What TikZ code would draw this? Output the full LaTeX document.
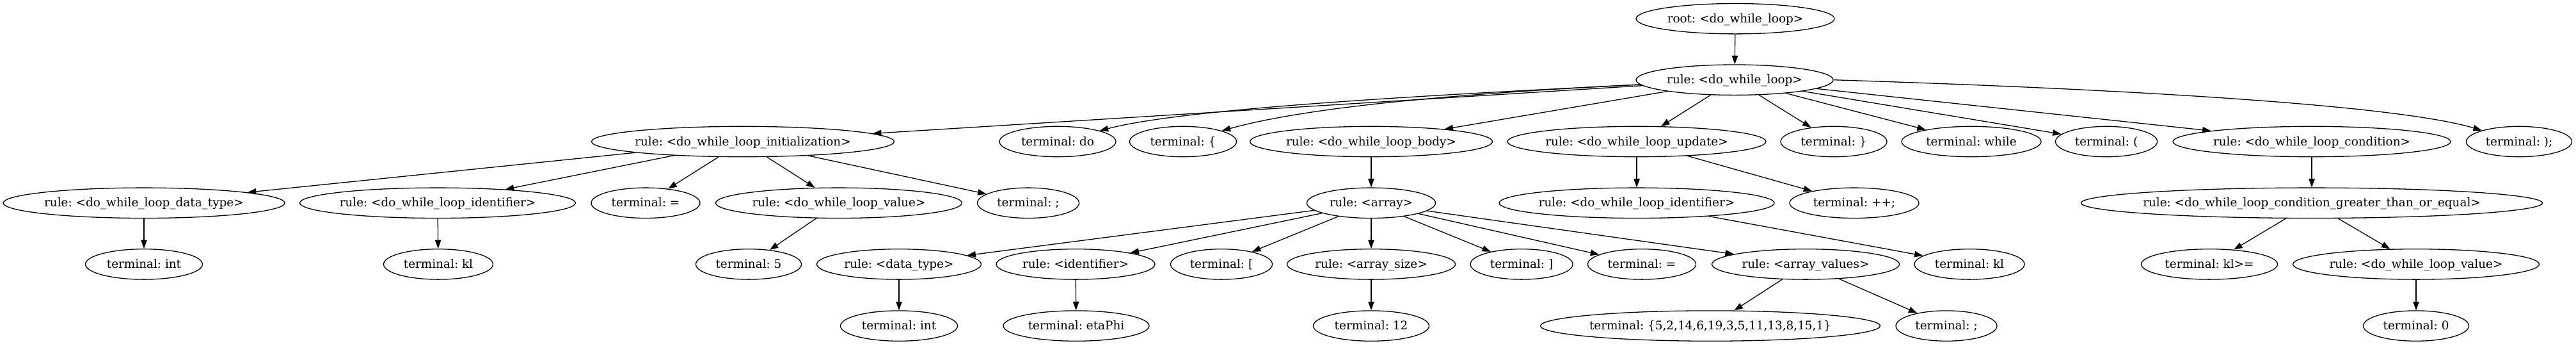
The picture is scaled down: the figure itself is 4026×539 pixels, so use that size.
\documentclass[tikz,border=0pt]{standalone}
\usepackage{fontspec}
\newfontfamily\gvfont{DejaVu Serif}
\usetikzlibrary{shapes.geometric,arrows.meta}
\tikzset{
  gv/.style={ellipse, draw, line width=1.3pt, minimum height=47.4pt, inner sep=0pt,
    text height=14pt, text depth=2pt, font=\gvfont\fontsize{18.4}{22}\selectfont\frenchspacing},
  edge/.style={line width=1.3pt, -{Triangle[length=13.5pt,width=9.5pt]}}
}
\newcommand\gvn[4]{\node[gv, minimum width=#3pt] (#1) at (#2) {\makebox[0pt]{#4}};}
\begin{document}
\begin{tikzpicture}[x=1pt,y=-1pt]
\useasboundingbox (0,0) rectangle (4026,539);
% level 0
\gvn{root}{2712,29.2}{310}{root: <do\_while\_loop>}
% level 1
\gvn{dwl}{2711,124.7}{308}{rule: <do\_while\_loop>}
% level 2
\gvn{init}{1161,221}{473}{rule: <do\_while\_loop\_initialization>}
\gvn{do}{1653,221}{182}{terminal: do}
\gvn{lb}{1849,221}{167}{terminal: \{}
\gvn{body}{2143,221}{379}{rule: <do\_while\_loop\_body>}
\gvn{update}{2558,221}{404}{rule: <do\_while\_loop\_update>}
\gvn{rb}{2866,221}{166}{terminal: \}}
\gvn{while}{3081,221}{218}{terminal: while}
\gvn{lp}{3292,221}{159}{terminal: (}
\gvn{cond}{3613,221}{434}{rule: <do\_while\_loop\_condition>}
\gvn{rp}{3937,221}{165}{terminal: );}
% level 3
\gvn{dtype}{225,316.8}{440}{rule: <do\_while\_loop\_data\_type>}
\gvn{ident}{684,316.8}{431}{rule: <do\_while\_loop\_identifier>}
\gvn{eq}{1009,316.8}{170}{terminal: =}
\gvn{val}{1311,316.8}{385}{rule: <do\_while\_loop\_value>}
\gvn{semi}{1607,316.8}{159}{terminal: ;}
\gvn{array}{2143,316.8}{201}{rule: <array>}
\gvn{uident}{2558,316.8}{430}{rule: <do\_while\_loop\_identifier>}
\gvn{pp}{2898,316.8}{202}{terminal: ++;}
\gvn{gte}{3613,316.8}{721}{rule: <do\_while\_loop\_condition\_greater\_than\_or\_equal>}
% level 4
\gvn{int1}{225,412.4}{183}{terminal: int}
\gvn{kl1}{685,412.4}{171}{terminal: kl}
\gvn{five}{1170,412.4}{165}{terminal: 5}
\gvn{adt}{1405,412.4}{257}{rule: <data\_type>}
\gvn{aid}{1681,412.4}{248}{rule: <identifier>}
\gvn{lbk}{1909,412.4}{159}{terminal: [}
\gvn{asize}{2143,412.4}{263}{rule: <array\_size>}
\gvn{rbk}{2378,412.4}{160}{terminal: ]}
\gvn{aeq}{2566,412.4}{169}{terminal: =}
\gvn{avals}{2822,412.4}{293}{rule: <array\_values>}
\gvn{kl2}{3078,412.4}{172}{terminal: kl}
\gvn{klge}{3453,412.4}{213}{terminal: kl>=}
\gvn{cval}{3776,412.4}{385}{rule: <do\_while\_loop\_value>}
% level 5
\gvn{int2}{1405,508.6}{183}{terminal: int}
\gvn{eta}{1682,508.6}{228}{terminal: etaPhi}
\gvn{twelve}{2143,508.6}{181}{terminal: 12}
\gvn{vals}{2673,508.6}{531}{terminal: \{5,2,14,6,19,3,5,11,13,8,15,1\}}
\gvn{semi2}{3042,508.6}{158}{terminal: ;}
\gvn{zero}{3776,508.6}{165}{terminal: 0}
% edges
\draw[edge] (root) -- (dwl);
\draw[edge] (dwl) -- (init);
\draw[edge] (dwl) .. controls (2200,150) and (1850,170) .. (do);
\draw[edge] (dwl) .. controls (2300,145) and (2050,165) .. (lb);
\draw[edge] (dwl) -- (body);
\draw[edge] (dwl) -- (update);
\draw[edge] (dwl) -- (rb);
\draw[edge] (dwl) -- (while);
\draw[edge] (dwl) -- (lp);
\draw[edge] (dwl) -- (cond);
\draw[edge] (dwl.east) .. controls (3350,140) and (3750,165) .. (rp);
\draw[edge] (init) -- (dtype);
\draw[edge] (init) -- (ident);
\draw[edge] (init) -- (eq);
\draw[edge] (init) -- (val);
\draw[edge] (init) -- (semi);
\draw[edge] (dtype) -- (int1);
\draw[edge] (ident) -- (kl1);
\draw[edge] (val) -- (five);
\draw[edge] (body) -- (array);
\draw[edge] (array) -- (adt);
\draw[edge] (array) -- (aid);
\draw[edge] (array) -- (lbk);
\draw[edge] (array) -- (asize);
\draw[edge] (array) -- (rbk);
\draw[edge] (array) -- (aeq);
\draw[edge] (array) -- (avals);
\draw[edge] (adt) -- (int2);
\draw[edge] (aid) -- (eta);
\draw[edge] (asize) -- (twelve);
\draw[edge] (avals) -- (vals);
\draw[edge] (avals) -- (semi2);
\draw[edge] (update) -- (uident);
\draw[edge] (update) -- (pp);
\draw[edge] (uident) -- (kl2);
\draw[edge] (cond) -- (gte);
\draw[edge] (gte) -- (klge);
\draw[edge] (gte) -- (cval);
\draw[edge] (cval) -- (zero);
\end{tikzpicture}
\end{document}
